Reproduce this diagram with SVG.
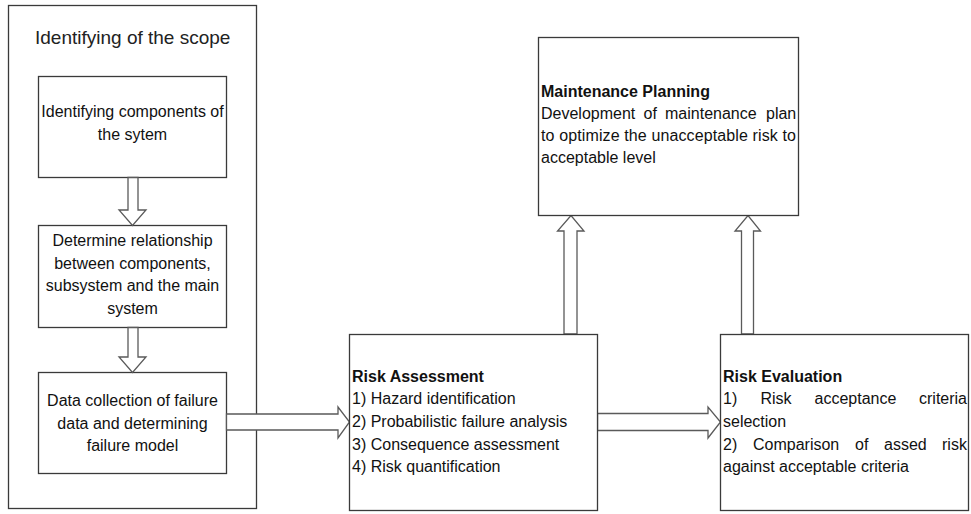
<svg xmlns="http://www.w3.org/2000/svg" width="971" height="514" viewBox="0 0 971 514">
<style>
.box{fill:#fff;stroke:#3a3a3a;stroke-width:1.3}
.arr{fill:#fff;stroke:#5a5a5a;stroke-width:1.3;stroke-linejoin:miter}
text{font-family:"Liberation Sans",Arial,sans-serif;font-size:16px;fill:#111}
.c{text-anchor:middle}
.b{font-weight:bold}
.title{font-size:19px;fill:#222}
</style>
<rect width="971" height="514" fill="#fff"/>
<g id="scope">
<rect class="box" x="8.5" y="5.5" width="248" height="503"/>
<text class="title" x="35" y="44">Identifying of the scope</text>
</g>
<g id="components">
<rect class="box" x="38.5" y="76.5" width="188" height="101"/>
<text class="c" x="132.5" y="117">Identifying components of</text>
<text class="c" x="132.5" y="140">the sytem</text>
</g>
<g id="relationship">
<rect class="box" x="38.5" y="225.5" width="188" height="102"/>
<text class="c" x="132.5" y="246">Determine relationship</text>
<text class="c" x="132.5" y="268.5">between components,</text>
<text class="c" x="132.5" y="291">subsystem and the main</text>
<text class="c" x="132.5" y="313.5">system</text>
</g>
<g id="datacollection">
<rect class="box" x="38.5" y="372.5" width="188" height="101"/>
<text class="c" x="132.5" y="406">Data collection of failure</text>
<text class="c" x="132.5" y="428.5">data and determining</text>
<text class="c" x="132.5" y="451">failure model</text>
</g>
<g id="connectors">
<polygon class="arr" points="128,177.5 138,177.5 138,210 146,210 132.5,225.5 119,210 128,210"/>
<polygon class="arr" points="128,327.5 138,327.5 138,357 146,357 132.5,372.5 119,357 128,357"/>
<polygon class="arr" points="226.5,414 338,414 338,407 349.5,422 338,438 338,430 226.5,430"/>
<polygon class="arr" points="597.5,413.5 708,413.5 708,407 720.5,422 708,438 708,430.5 597.5,430.5"/>
<polygon class="arr" points="564,334 564,231 557.5,231 571,215.5 584,231 577,231 577,334"/>
<polygon class="arr" points="741.5,334 741.5,231 735,231 748,215.5 760.5,231 753.5,231 753.5,334"/>
</g>
<g id="maintenance">
<rect class="box" x="538.5" y="37.5" width="260" height="178"/>
<text class="b" x="541" y="96.5">Maintenance Planning</text>
<text y="118.5"><tspan x="541">Development</tspan><tspan x="643.5">of</tspan><tspan x="665">maintenance</tspan><tspan x="766">plan</tspan></text>
<text x="541" y="140.5" textLength="255" lengthAdjust="spacing">to optimize the unacceptable risk to</text>
<text x="541" y="163">acceptable level</text>
</g>
<g id="riskassessment">
<rect class="box" x="349.5" y="334.5" width="248" height="176"/>
<text class="b" x="352" y="381.5">Risk Assessment</text>
<text x="352" y="404">1) Hazard identification</text>
<text x="352" y="427">2) Probabilistic failure analysis</text>
<text x="352" y="449.5">3) Consequence assessment</text>
<text x="352" y="472">4) Risk quantification</text>
</g>
<g id="riskevaluation">
<rect class="box" x="720.5" y="334.5" width="248" height="176"/>
<text class="b" x="723" y="381.5">Risk Evaluation</text>
<text y="404"><tspan x="723">1)</tspan><tspan x="760.5">Risk</tspan><tspan x="814.5">acceptance</tspan><tspan x="919">criteria</tspan></text>
<text x="723" y="427">selection</text>
<text y="449.5"><tspan x="723">2)</tspan><tspan x="753">Comparison</tspan><tspan x="855">of</tspan><tspan x="884">assed</tspan><tspan x="942">risk</tspan></text>
<text x="723" y="472">against acceptable criteria</text>
</g>
</svg>
